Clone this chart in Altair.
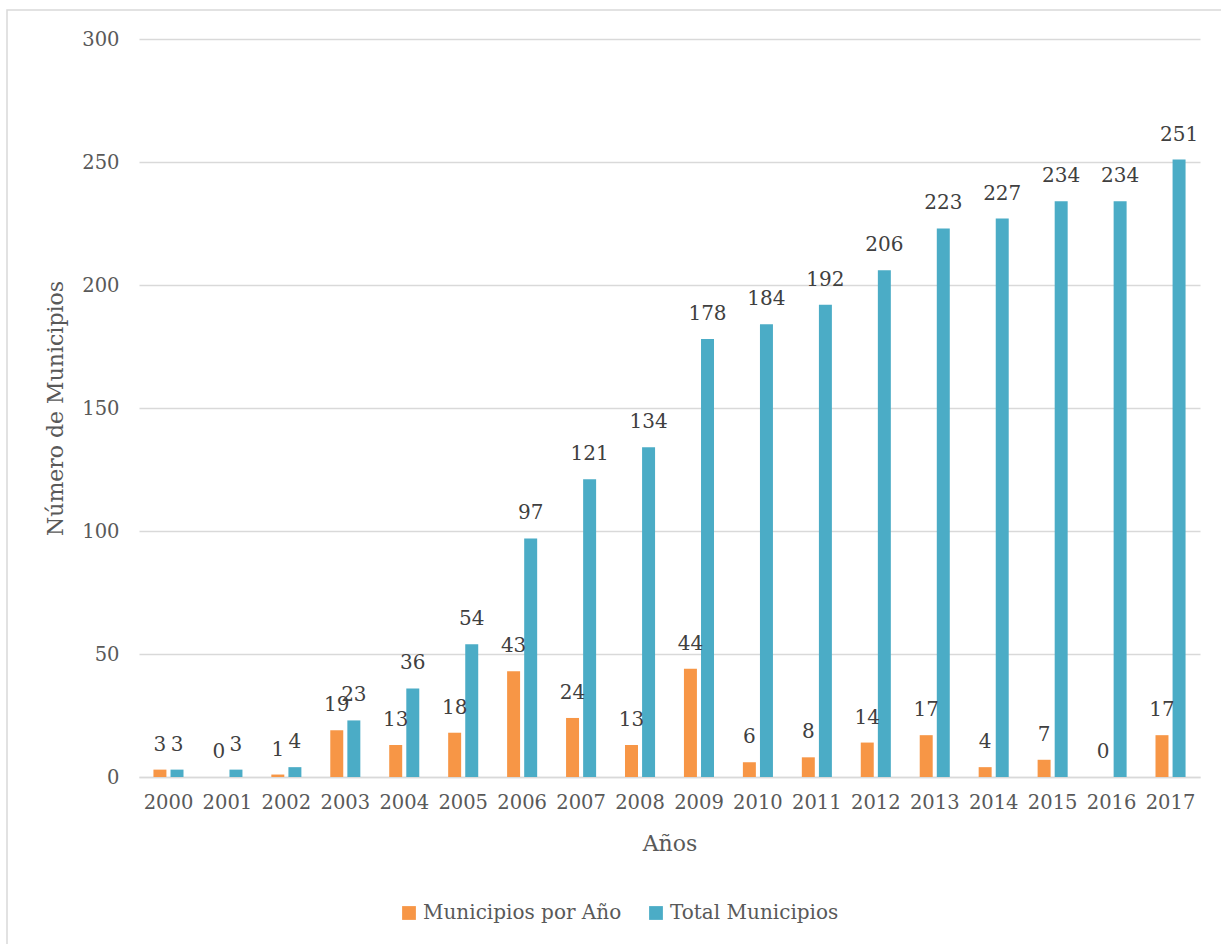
import altair as alt
import pandas as pd

years = [str(y) for y in range(2000, 2018)]
por_ano = [3, 0, 1, 19, 13, 18, 43, 24, 13, 44, 6, 8, 14, 17, 4, 7, 0, 17]
total = [3, 3, 4, 23, 36, 54, 97, 121, 134, 178, 184, 192, 206, 223, 227, 234, 234, 251]
series = ["Municipios por Año", "Total Municipios"]
colors = ["#F79646", "#4BACC6"]

rows = []
for y, a, t in zip(years, por_ano, total):
    rows.append({"Año": y, "Serie": series[0], "Valor": a})
    rows.append({"Año": y, "Serie": series[1], "Valor": t})
df = pd.DataFrame(rows)

FONT = "DejaVu Serif"
W, H = 1061, 738

x = alt.X("Año:N", title="Años",
          scale=alt.Scale(paddingInner=0.49, paddingOuter=0.245),
          axis=alt.Axis(labelAngle=0, ticks=False, domainColor="#d9d9d9", domainWidth=1.5,
                        labelPadding=16, titlePadding=22))
xo = alt.XOffset("Serie:N", scale=alt.Scale(paddingInner=0.24), sort=series)
y = alt.Y("Valor:Q", title="Número de Municipios",
          scale=alt.Scale(domain=[0, 300], nice=False),
          axis=alt.Axis(values=[0, 50, 100, 150, 200, 250, 300], ticks=False, domain=False,
                        gridColor="#d9d9d9", gridWidth=1.5, labelPadding=20, titlePadding=14))
color = alt.Color("Serie:N", sort=series,
                  scale=alt.Scale(domain=series, range=colors),
                  legend=alt.Legend(title=None, orient="none", direction="horizontal",
                                    legendX=260, legendY=864, symbolType="square",
                                    symbolSize=190, symbolStrokeWidth=0, columnPadding=24,
                                    labelFontSize=20, labelFont=FONT, labelColor="#595959",
                                    labelOffset=4, labelLimit=0))

base = alt.Chart(df)
bars = base.mark_bar().encode(x=x, xOffset=xo, y=y, color=color)
labels = base.mark_text(baseline="bottom", dy=-15, font=FONT, fontSize=20, color="#404040").encode(
    x=x, xOffset=xo, y=y, text="Valor:Q")

frame_df = pd.DataFrame({"k": [0]})
frame = alt.Chart(frame_df).mark_rect(fill=None, stroke="#d9d9d9", strokeWidth=1.5, clip=False).encode(
    x=alt.value(-132), x2=alt.value(1090), y=alt.value(-29), y2=alt.value(920))

chart = alt.layer(frame, bars, labels).properties(
    width=W, height=H,
    background="white",
    autosize=alt.AutoSizeParams(type="none"),
    padding={"left": 139, "top": 39, "right": 21, "bottom": 167},
).configure_view(stroke=None).configure_axis(
    labelFont=FONT, titleFont=FONT, labelFontSize=19.5, titleFontSize=22,
    labelColor="#595959", titleColor="#595959", titleFontWeight="normal",
)

chart.save("out.html", embed_options={"renderer": "svg", "actions": False})
